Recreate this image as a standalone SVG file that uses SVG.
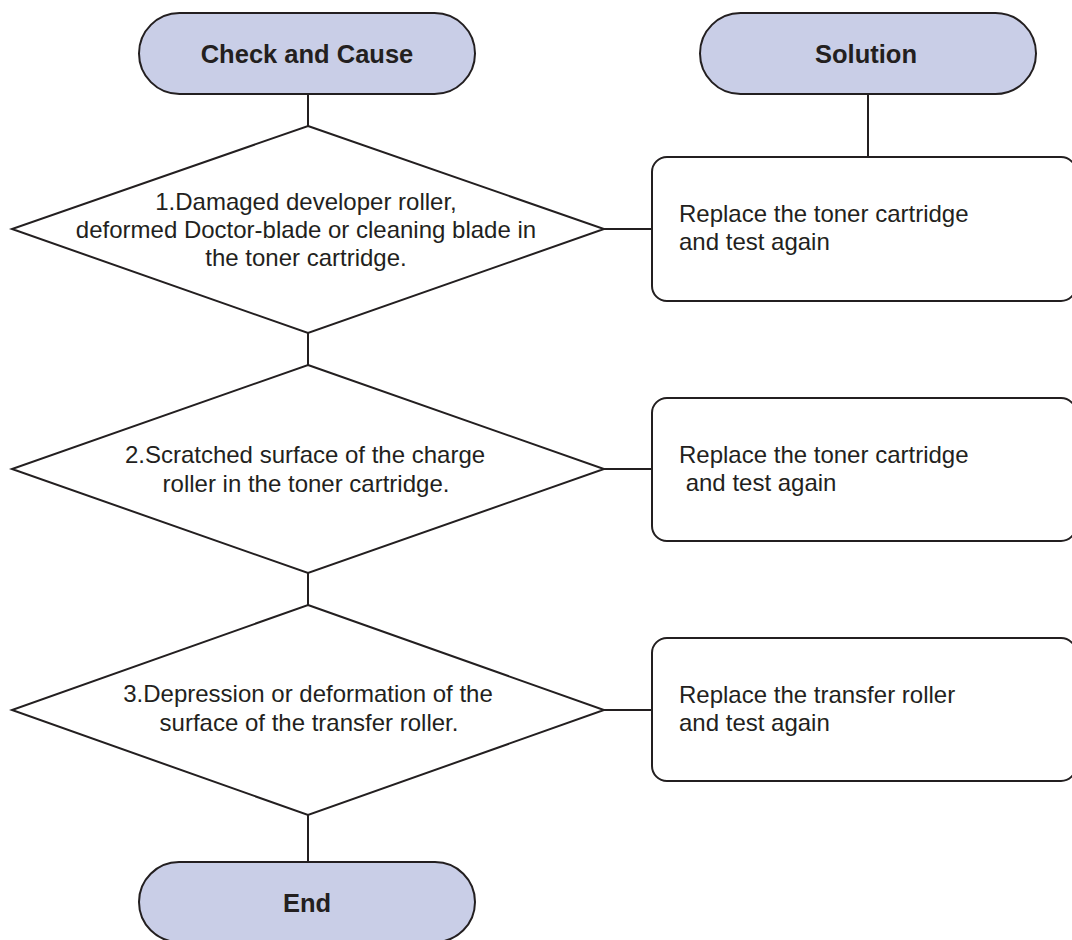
<svg xmlns="http://www.w3.org/2000/svg" width="1072" height="940" viewBox="0 0 1072 940">
  <style>
    .term { fill: #c9cee7; stroke: #231f20; stroke-width: 2; }
    .dec { fill: #ffffff; stroke: #231f20; stroke-width: 2; }
    .proc { fill: #ffffff; stroke: #231f20; stroke-width: 2; }
    .link { fill: none; stroke: #231f20; stroke-width: 2; }
    .title { font-family: "Liberation Sans", Arial, sans-serif; font-size: 25.5px; font-weight: bold; fill: #231f20; text-anchor: middle; }
    .body { font-family: "Liberation Sans", Arial, sans-serif; font-size: 24px; fill: #231f20; }
    .mid { text-anchor: middle; }
  </style>
  <rect width="1072" height="940" fill="#ffffff"/>

  <g id="connectors">
    <line class="link" x1="308" y1="94" x2="308" y2="126"/>
    <line class="link" x1="308" y1="333" x2="308" y2="365"/>
    <line class="link" x1="308" y1="573" x2="308" y2="605"/>
    <line class="link" x1="308" y1="815" x2="308" y2="862"/>
    <line class="link" x1="868" y1="94" x2="868" y2="157"/>
    <line class="link" x1="604" y1="229" x2="652" y2="229"/>
    <line class="link" x1="604" y1="469" x2="652" y2="469"/>
    <line class="link" x1="604" y1="710" x2="652" y2="710"/>
  </g>

  <g id="check-and-cause">
    <rect class="term" x="139" y="13" width="336" height="81" rx="40.5"/>
    <text class="title" x="307" y="63">Check and Cause</text>
  </g>

  <g id="solution">
    <rect class="term" x="700" y="13" width="336" height="81" rx="40.5"/>
    <text class="title" x="866" y="63">Solution</text>
  </g>

  <g id="cause-1">
    <polygon class="dec" points="308,126 604,229 308,333 12,229"/>
    <text class="body mid" x="306" y="210">1.Damaged developer roller,</text>
    <text class="body mid" x="306" y="238">deformed Doctor-blade or cleaning blade in</text>
    <text class="body mid" x="306" y="266">the toner cartridge.</text>
  </g>

  <g id="cause-2">
    <polygon class="dec" points="308,365 604,469 308,573 12,469"/>
    <text class="body mid" x="305" y="463">2.Scratched surface of the charge</text>
    <text class="body mid" x="306" y="492">roller in the toner cartridge.</text>
  </g>

  <g id="cause-3">
    <polygon class="dec" points="308,605 604,710 308,815 12,710"/>
    <text class="body mid" x="308" y="702">3.Depression or deformation of the</text>
    <text class="body mid" x="309" y="731">surface of the transfer roller.</text>
  </g>

  <g id="fix-1">
    <rect class="proc" x="652" y="157" width="424" height="144" rx="15"/>
    <text class="body" x="679" y="222">Replace the toner cartridge</text>
    <text class="body" x="679" y="250">and test again</text>
  </g>

  <g id="fix-2">
    <rect class="proc" x="652" y="398" width="424" height="143" rx="15"/>
    <text class="body" x="679" y="463">Replace the toner cartridge</text>
    <text class="body" x="679" y="491" xml:space="preserve"> and test again</text>
  </g>

  <g id="fix-3">
    <rect class="proc" x="652" y="638" width="424" height="143" rx="15"/>
    <text class="body" x="679" y="703">Replace the transfer roller</text>
    <text class="body" x="679" y="731">and test again</text>
  </g>

  <g id="end">
    <rect class="term" x="139" y="862" width="336" height="80" rx="40"/>
    <text class="title" x="307" y="912">End</text>
  </g>
</svg>
